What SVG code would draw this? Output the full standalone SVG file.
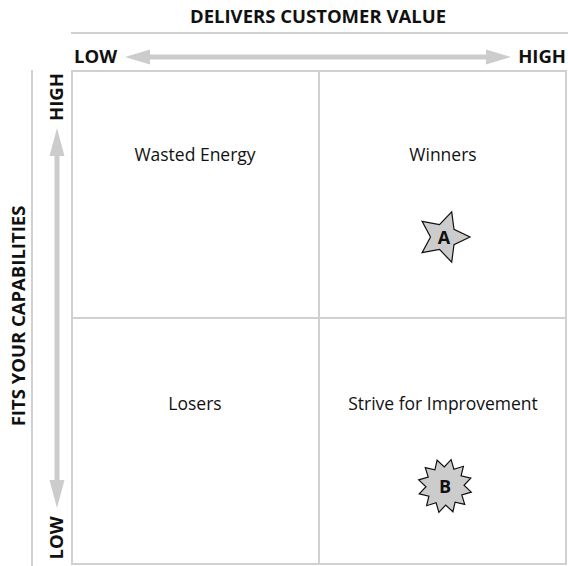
<svg xmlns="http://www.w3.org/2000/svg" width="568" height="566" viewBox="0 0 568 566">
<style>
.t{font-family:"Open Sans","Liberation Sans",sans-serif;fill:#111;}
.cell{font-size:17.5px;text-anchor:middle;}
.ax{font-size:18.5px;font-weight:bold;}
.grid{stroke:#d0d0d0;stroke-width:2;fill:none;}
.arr{fill:#cccccc;}
.star{fill:#cccccc;stroke:#111;stroke-width:1.2;stroke-linejoin:miter;}
.lbl{font-size:18px;font-weight:bold;text-anchor:middle;}
</style>
<rect width="568" height="566" fill="#fff"/>
<g id="axis-x">
<text class="t ax" x="318" y="23" text-anchor="middle">DELIVERS CUSTOMER VALUE</text>
<line class="grid" x1="71" y1="33" x2="568" y2="33"/>
<text class="t ax" x="74" y="63">LOW</text>
<text class="t ax" x="566" y="63" text-anchor="end">HIGH</text>
<polygon class="arr" points="125,57 150,49.5 150,54.5 486,54.5 486,49.5 511,57 486,64.5 486,59.5 150,59.5 150,64.5"/>
</g>
<g id="axis-y">
<text class="t ax" transform="translate(25,316) rotate(-90)" text-anchor="middle">FITS YOUR CAPABILITIES</text>
<line class="grid" x1="32" y1="70" x2="32" y2="566"/>
<text class="t ax" transform="translate(63,97) rotate(-90)" text-anchor="middle">HIGH</text>
<text class="t ax" transform="translate(63,538) rotate(-90)" text-anchor="middle">LOW</text>
<polygon class="arr" points="57,128 64.5,156 59.5,156 59.5,480 64.5,480 57,508 49.5,480 54.5,480 54.5,156 49.5,156"/>
</g>
<g id="grid">
<rect class="grid" x="72" y="71" width="494" height="493"/>
<line class="grid" x1="319" y1="71" x2="319" y2="564"/>
<line class="grid" x1="72" y1="318" x2="566" y2="318"/>
</g>
<g id="q-wasted"><text class="t cell" x="195" y="161">Wasted Energy</text></g>
<g id="q-winners"><text class="t cell" x="443" y="161">Winners</text></g>
<g id="q-losers"><text class="t cell" x="195" y="410">Losers</text></g>
<g id="q-strive"><text class="t cell" x="443" y="410">Strive for Improvement</text></g>
<g id="star-a">
<polygon class="star" points="470,237 454,244.6 451.7,262.2 439.5,249.4 422.1,252.6 430.5,237 422.1,221.4 439.5,224.6 451.7,211.8 454,229.4"/>
<text class="t lbl" x="444" y="244">A</text>
</g>
<g id="star-b">
<polygon class="star" points="451.1,459.7 453.9,469.2 463.4,466.3 461.1,475.9 470.8,478.1 464,485.3 471.3,492.1 461.8,494.9 464.7,504.4 455.1,502.1 452.9,511.8 445.7,505 438.9,512.3 436.1,502.8 426.6,505.7 428.9,496.1 419.2,493.9 426,486.7 418.7,479.9 428.2,477.1 425.3,467.6 434.9,469.9 437.1,460.2 444.3,467"/>
<text class="t lbl" x="445" y="493">B</text>
</g>
</svg>
